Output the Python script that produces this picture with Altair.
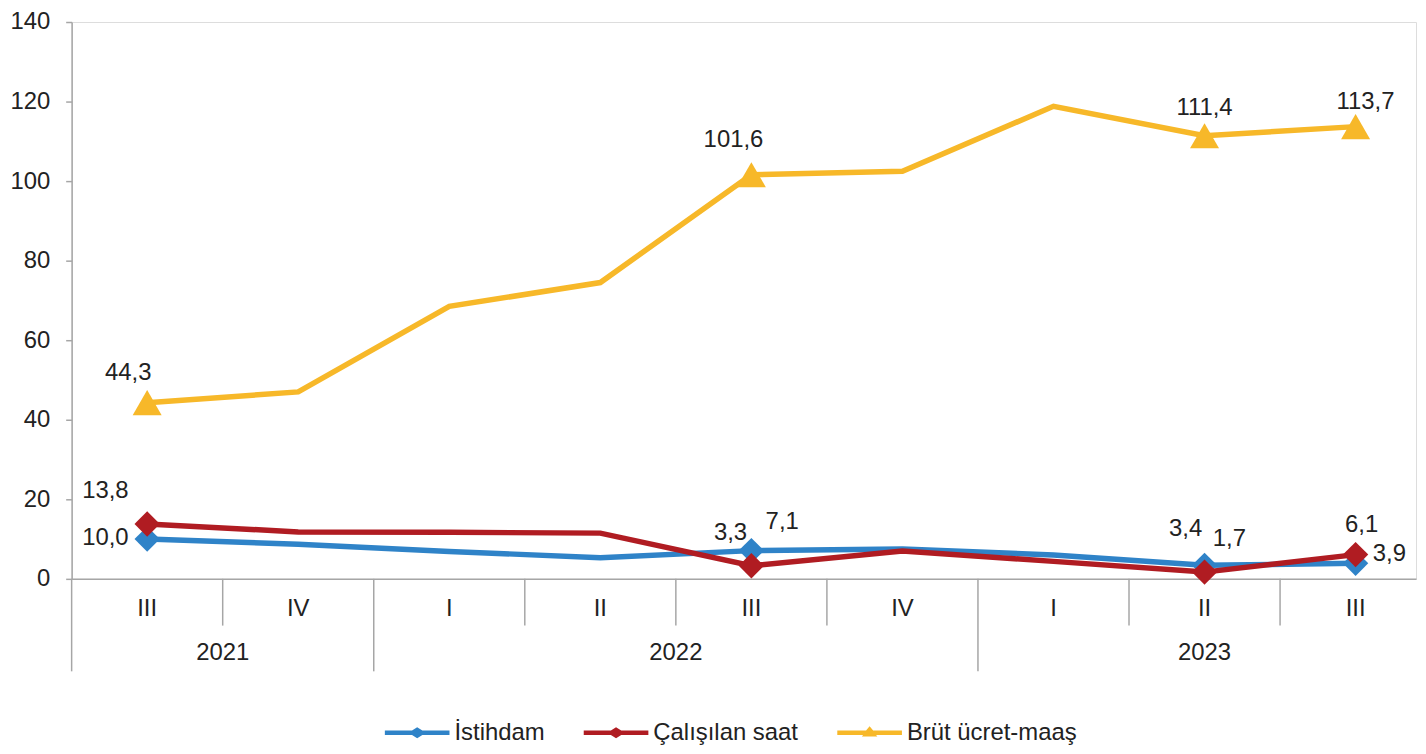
import altair as alt
import pandas as pd

# ---------------- data ----------------
quarters = ["III", "IV", "I", "II", "III", "IV", "I", "II", "III"]
years = ["2021", "2021", "2022", "2022", "2022", "2022", "2023", "2023", "2023"]
series_names = ["İstihdam", "Çalışılan saat", "Brüt ücret-maaş"]
istihdam = [10.0, 8.7, 6.9, 5.3, 7.1, 7.5, 6.0, 3.4, 3.9]
calisilan_saat = [13.8, 11.8, 11.7, 11.5, 3.3, 7.0, 4.4, 1.7, 6.1]
brut_ucret = [44.3, 47.0, 68.5, 74.5, 101.6, 102.5, 118.8, 111.4, 113.7]
labeled_points = [0, 4, 7, 8]
y_ticks = [0, 20, 40, 60, 80, 100, 120, 140]

# ---------------- styles ----------------
colors = ["#2f83c8", "#b01c22", "#f7b829"]
FONT = "Liberation Sans"
TEXT_COLOR = "#222222"
GRAY = "#a6a6a6"
W, H = 1352, 560

# label offsets (dx, dy) in pixels, per series / point
label_offsets = {
    ("İstihdam", 0): (-42, -1),
    ("İstihdam", 4): (31, -29),
    ("İstihdam", 7): (-19, -36),
    ("İstihdam", 8): (34, -9),
    ("Çalışılan saat", 0): (-42, -33),
    ("Çalışılan saat", 4): (-21, -33),
    ("Çalışılan saat", 7): (25, -33),
    ("Çalışılan saat", 8): (6, -30),
    ("Brüt ücret-maaş", 0): (-19, -30),
    ("Brüt ücret-maaş", 4): (-18, -35),
    ("Brüt ücret-maaş", 7): (0, -28),
    ("Brüt ücret-maaş", 8): (10, -25),
}

values_by_series = [istihdam, calisilan_saat, brut_ucret]
rows = []
for s, vals in zip(series_names, values_by_series):
    for i, v in enumerate(vals):
        rows.append({
            "idx": i, "quarter": quarters[i], "year": years[i],
            "series": s, "value": v,
            "label": f"{v:.1f}".replace(".", ","),
            "marked": i in labeled_points,
        })
df = pd.DataFrame(rows)

# category separators derived from the categories
sep_rows = [{"pos": -0.5, "kind": "year"}]
for i in range(len(years) - 1):
    sep_rows.append({"pos": i + 0.5, "kind": "year" if years[i] != years[i + 1] else "quarter"})
sep_df = pd.DataFrame(sep_rows)

q_df = pd.DataFrame({"idx": list(range(len(quarters))), "quarter": quarters})
yr_df = (pd.DataFrame({"idx": list(range(len(years))), "year": years})
         .groupby("year", as_index=False)["idx"].mean()
         .rename(columns={"idx": "center"}))

# ---------------- encodings ----------------
x_scale = alt.Scale(domain=[-0.5, 8.4], nice=False, zero=False)
x_axis = alt.Axis(labels=False, ticks=False, grid=False, title=None,
                  domainColor=GRAY, domainWidth=1.5)
y_scale = alt.Scale(domain=[0, 140], nice=False)
y_axis = alt.Axis(values=y_ticks, grid=False, title=None, tickSize=6,
                  tickColor=GRAY, tickWidth=1.5, domainColor=GRAY, domainWidth=1.5,
                  labelFont=FONT, labelFontSize=24, labelColor=TEXT_COLOR,
                  labelPadding=16)

diamond_path = ("M-1,-0.07L-0.16,-0.07L0,-0.17L0.16,-0.07L1,-0.07L1,0.07"
                "L0.16,0.07L0,0.17L-0.16,0.07L-1,0.07Z")
triangle_path = ("M-1,-0.07L-0.11,-0.07L0,-0.2L0.11,-0.07L1,-0.07L1,0.07"
                 "L0.2,0.07L0.24,0.12L-0.24,0.12L-0.2,0.07L-1,0.07Z")

legend = alt.Legend(
    orient="none", legendX=315, legendY=682, direction="horizontal",
    title=None, symbolSize=4225, symbolStrokeWidth=0, symbolOpacity=1,
    labelFont=FONT, labelFontSize=24, labelColor=TEXT_COLOR,
    labelOffset=5, columnPadding=39, labelLimit=400, padding=0,
)
color_enc = alt.Color("series:N", scale=alt.Scale(domain=series_names, range=colors),
                      legend=legend)
shape_enc = alt.Shape("series:N",
                      scale=alt.Scale(domain=series_names,
                                      range=[diamond_path, diamond_path, triangle_path]),
                      legend=legend)

base = alt.Chart(df)
x_enc = alt.X("idx:Q", scale=x_scale, axis=x_axis)
y_enc = alt.Y("value:Q", scale=y_scale, axis=y_axis)

layers = []

# separators and category labels
layers.append(alt.Chart(sep_df).transform_filter("datum.kind === 'quarter'").mark_rule(
    color=GRAY, strokeWidth=1.5).encode(
    x=alt.X("pos:Q", scale=x_scale, axis=x_axis), y=alt.value(H), y2=alt.value(H + 47)))
layers.append(alt.Chart(sep_df).transform_filter("datum.kind === 'year'").mark_rule(
    color=GRAY, strokeWidth=1.5).encode(
    x=alt.X("pos:Q", scale=x_scale, axis=x_axis), y=alt.value(H), y2=alt.value(H + 93)))
layers.append(alt.Chart(q_df).mark_text(
    font=FONT, fontSize=24, color=TEXT_COLOR, baseline="middle", align="center").encode(
    x=alt.X("idx:Q", scale=x_scale, axis=x_axis), y=alt.value(H + 30), text="quarter:N"))
layers.append(alt.Chart(yr_df).mark_text(
    font=FONT, fontSize=24, color=TEXT_COLOR, baseline="middle", align="center").encode(
    x=alt.X("center:Q", scale=x_scale, axis=x_axis), y=alt.value(H + 75), text="year:N"))

# series lines and markers
for s, c in zip(series_names, colors):
    layers.append(base.transform_filter(alt.datum.series == s).mark_line(
        strokeWidth=5.5, color=c).encode(x=x_enc, y=y_enc))
    shape = "triangle-up" if s == series_names[2] else "diamond"
    size = 850 if s == series_names[2] else 650
    layers.append(base.transform_filter((alt.datum.series == s) & alt.datum.marked).mark_point(
        shape=shape, filled=True, size=size, opacity=1, color=c, strokeWidth=0).encode(
        x=x_enc, y=y_enc))

# legend-only layer (no rows survive the filter; the legend comes from the scales)
layers.append(base.transform_filter("false").mark_point(filled=True, opacity=1).encode(
    x=x_enc, y=y_enc, color=color_enc, shape=shape_enc))

# data labels
for (s, i), (dx, dy) in label_offsets.items():
    layers.append(base.transform_filter((alt.datum.series == s) & (alt.datum.idx == i)).mark_text(
        font=FONT, fontSize=24, color=TEXT_COLOR, dx=dx, dy=dy,
        align="center", baseline="middle").encode(x=x_enc, y=y_enc, text="label:N"))

chart = alt.layer(*layers).properties(
    width=W, height=H,
    autosize=alt.AutoSizeParams(type="none"),
    padding={"left": 64, "top": 12, "right": 2, "bottom": 166},
).configure_view(stroke=None).configure(background="white")

chart.save("out.html", embed_options={"renderer": "svg", "actions": False})
